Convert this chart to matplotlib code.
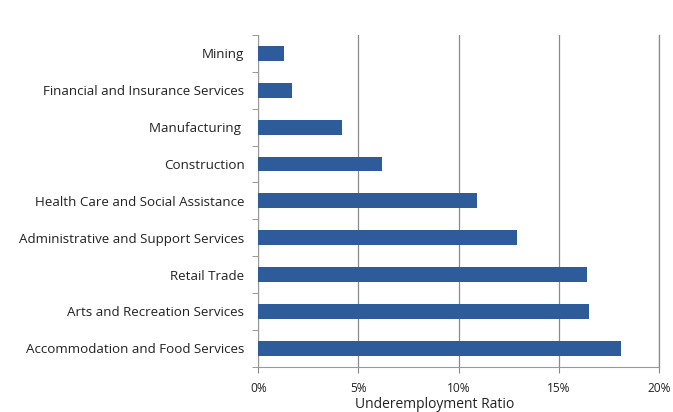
import matplotlib.pyplot as plt
from matplotlib.ticker import FuncFormatter, FixedLocator

plt.rcParams["font.family"] = ["Open Sans", "DejaVu Sans"]

industries = ["Mining", "Financial and Insurance Services", "Manufacturing ",
              "Construction", "Health Care and Social Assistance",
              "Administrative and Support Services", "Retail Trade",
              "Arts and Recreation Services", "Accommodation and Food Services"]
ratio = [1.3, 1.7, 4.2, 6.2, 10.9, 12.9, 16.4, 16.5, 18.1]

fig = plt.figure(figsize=(6.73, 4.12), dpi=100)
ax = fig.add_axes([0.3838, 0.11, 0.595, 0.805])

pos = list(range(len(industries)))
ax.barh(pos, ratio, height=0.4, color="#2E5B9A", zorder=3)
ax.set_ylim(len(industries) - 0.5, -0.5)
ax.set_xlim(0, 20)

# category labels, with ticks drawn at the boundaries
ax.set_yticks(pos)
ax.set_yticklabels(industries, fontsize=9.6, color="#222222")
ax.tick_params(axis="y", which="major", length=0, pad=10)
ax.yaxis.set_minor_locator(FixedLocator([p - 0.5 for p in pos] + [len(pos) - 0.5]))
ax.tick_params(axis="y", which="minor", length=4, color="#888888", direction="out")

ax.set_xticks([0, 5, 10, 15, 20])
ax.xaxis.set_major_formatter(FuncFormatter(lambda v, _: "%d%%" % v))
ax.tick_params(axis="x", length=4, color="#888888", labelsize=8.6, labelcolor="#222222", pad=7)
ax.grid(axis="x", color="#8a8a8a", linewidth=0.9, zorder=0)

ax.spines["top"].set_visible(False)
# right spine stands in for the 20% gridline
ax.spines["right"].set_color("#8a8a8a")
ax.spines["right"].set_linewidth(0.9)
for side in ["left", "bottom"]:
    ax.spines[side].set_color("#999999")

ax.set_xlabel("Underemployment Ratio", fontsize=10, color="#222222")
ax.xaxis.set_label_coords(0.44, -0.092)

fig.savefig("out.png", dpi=100)
